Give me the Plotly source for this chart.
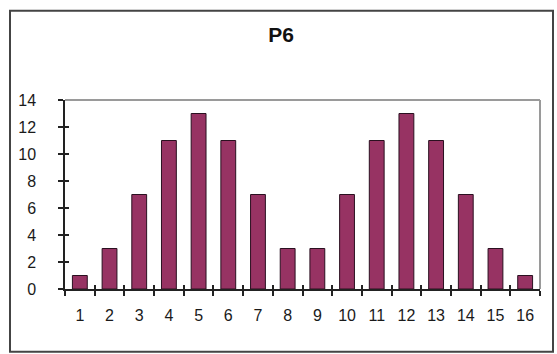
import plotly.graph_objects as go

categories = [str(i) for i in range(1, 17)]
values = [1, 3, 7, 11, 13, 11, 7, 3, 3, 7, 11, 13, 11, 7, 3, 1]
y_ticks = [0, 2, 4, 6, 8, 10, 12, 14]
title_text = "P6"

xpos = list(range(1, len(values) + 1))
boundaries = [i + 0.5 for i in range(0, len(values) + 1)]

FONT = "Liberation Sans, Arial, sans-serif"

fig = go.Figure()
fig.add_trace(go.Bar(
    x=xpos, y=values, width=0.5,
    marker=dict(color="#973363", line=dict(color="#2a1020", width=1)),
    showlegend=False, hoverinfo="skip",
))

L, R, T, B = 65, 17, 99.5, 65
W, H = 557, 354
pw, ph = W - L - R, H - T - B

def px_x(p):
    return (p - L) / pw

def px_y(p):
    return (H - B - p) / ph

fig.update_layout(
    width=W, height=H,
    margin=dict(l=L, r=R, t=T, b=B, pad=0),
    paper_bgcolor="white", plot_bgcolor="white",
    font=dict(family=FONT, size=16, color="#1a1a1a"),
    title=dict(text="<b>" + title_text + "</b>", x=281 / W, xanchor="center",
               y=1 - 35 / H, yanchor="middle", font=dict(size=21, color="#111")),
    xaxis=dict(range=[0.5, len(values) + 0.5], tickmode="array",
               tickvals=xpos, ticktext=categories, ticks="",
               showgrid=False, zeroline=False, showline=True,
               linecolor="#222", linewidth=1.5, ticklabelstandoff=11,
               minor=dict(tickmode="array", tickvals=boundaries, ticks="outside",
                          ticklen=5, tickwidth=1.5, tickcolor="#222", showgrid=False)),
    xaxis2=dict(range=[0.5, len(values) + 0.5], overlaying="x", anchor="y",
                tickmode="array", tickvals=boundaries, ticks="inside",
                ticklen=4, tickwidth=1.5, tickcolor="#222",
                showticklabels=False, showgrid=False, zeroline=False, showline=False),
    yaxis=dict(range=[0, 14], tickmode="array", tickvals=y_ticks,
               ticks="outside", ticklen=5, tickwidth=1.5, tickcolor="#222",
               showgrid=False, zeroline=False, showline=True,
               linecolor="#222", linewidth=1.5, ticklabelstandoff=19),
    yaxis2=dict(range=[0, 14], overlaying="y", anchor="x",
                tickmode="array", tickvals=y_ticks, ticks="inside",
                ticklen=4, tickwidth=1.5, tickcolor="#222",
                showticklabels=False, showgrid=False, zeroline=False, showline=False),
    bargap=0.5,
)

# invisible trace so the overlay axes are drawn
fig.add_trace(go.Scatter(x=[1], y=[0], xaxis="x2", yaxis="y2", mode="markers",
                         marker=dict(opacity=0), showlegend=False, hoverinfo="skip"))

# plot area border (top and right, gray)
fig.add_shape(type="line", xref="paper", yref="paper", x0=0, x1=1, y0=1, y1=1,
              line=dict(color="#9a9a9a", width=2))
fig.add_shape(type="line", xref="paper", yref="paper", x0=1, x1=1, y0=0, y1=1,
              line=dict(color="#9a9a9a", width=2))
# outer chart border
fig.add_shape(type="rect", xref="paper", yref="paper",
              x0=px_x(10), x1=px_x(553), y0=px_y(352), y1=px_y(10),
              line=dict(color="#444", width=2), fillcolor="rgba(0,0,0,0)")

fig.write_html("out.html")
